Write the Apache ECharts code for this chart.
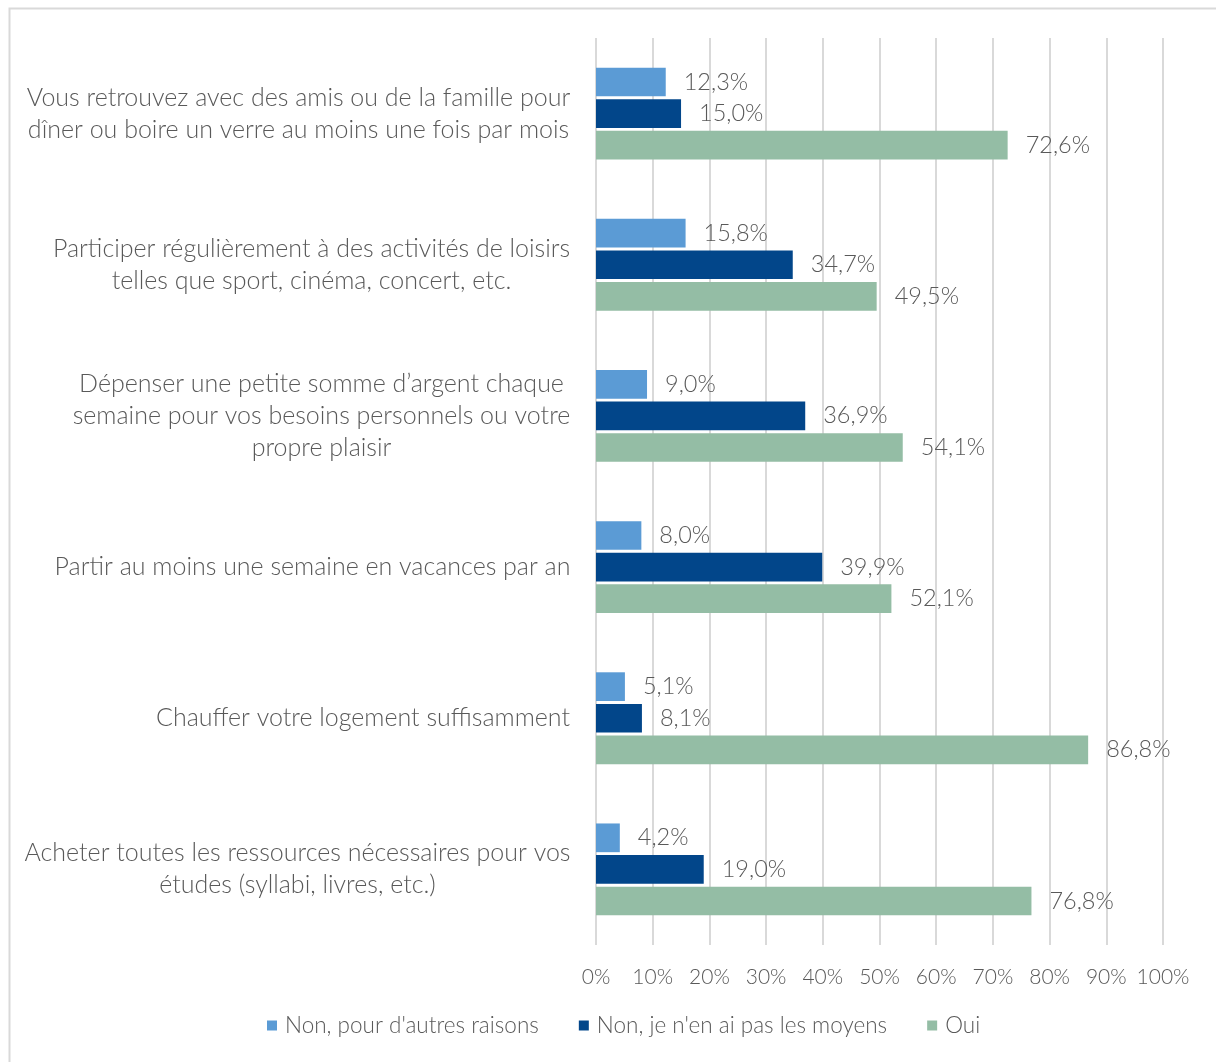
<!DOCTYPE html>
<html>
<head>
<meta charset="utf-8">
<script src="https://cdn.jsdelivr.net/npm/echarts@6/dist/echarts.min.js"></script>
<style>
  html, body { margin: 0; padding: 0; background: #fff; }
  #chart { width: 1216px; height: 1062px; }
</style>
</head>
<body>
<div id="chart"></div>
<script>
// Survey items (one label line per array entry)
const categories = [
  ['Vous retrouvez avec des amis ou de la famille pour', 'dîner ou boire un verre au moins une fois par mois'],
  ['Participer régulièrement à des activités de loisirs', 'telles que sport, cinéma, concert, etc.'],
  ['Dépenser une petite somme d’argent chaque', 'semaine pour vos besoins personnels ou votre', 'propre plaisir'],
  ['Partir au moins une semaine en vacances par an'],
  ['Chauffer votre logement suffisamment'],
  ['Acheter toutes les ressources nécessaires pour vos', 'études (syllabi, livres, etc.)']
];

const seriesNames = ['Non, pour d\'autres raisons', 'Non, je n\'en ai pas les moyens', 'Oui'];

// Shares in percent, one value per item
const nonAutres = [12.3, 15.8, 9.0, 8.0, 5.1, 4.2];
const nonMoyens = [15.0, 34.7, 36.9, 39.9, 8.1, 19.0];
const oui       = [72.6, 49.5, 54.1, 52.1, 86.8, 76.8];

const xTicks = ['0%', '10%', '20%', '30%', '40%', '50%', '60%', '70%', '80%', '90%', '100%'];

const colors = ['#5B9BD5', '#02468A', '#94BDA5'];
const FONT = 'Lato';
const WEIGHT = 300;
const TEXT = '#595959';
const CAT_SIZE = 25;

// Each multi-line label is centred on its own longest line, and the block is right-aligned
const measure = document.createElement('canvas').getContext('2d');
measure.font = WEIGHT + ' ' + CAT_SIZE + 'px ' + FONT;
const catKeys = categories.map((_, i) => 'c' + i);
const rich = {};
categories.forEach((lines, i) => {
  const w = Math.max(...lines.map(l => measure.measureText(l).width));
  rich['c' + i] = {
    width: Math.ceil(w) + 1, align: 'center', fontFamily: FONT, fontWeight: WEIGHT,
    fontSize: CAT_SIZE, color: TEXT, lineHeight: 32
  };
});

const fmtPct = v => v.toFixed(1).replace('.', ',') + '%';

const chart = echarts.init(document.getElementById('chart'), null, { renderer: 'canvas' });

const makeSeries = (name, data, color) => ({
  name, type: 'bar', data,
  barWidth: '19%', barGap: '10%', barCategoryGap: '38%',
  itemStyle: { color },
  label: {
    show: true, position: 'right', distance: 18,
    formatter: p => fmtPct(p.value),
    fontFamily: FONT, fontWeight: WEIGHT, fontSize: 23.5, color: TEXT
  }
});

chart.setOption({
  animation: false,
  textStyle: { fontFamily: FONT },
  graphic: [{
    type: 'rect', silent: true,
    shape: { x: 9.5, y: 8.5, width: 1300, height: 1200 },
    style: { fill: 'none', stroke: '#D9D9D9', lineWidth: 2 }
  }],
  grid: { left: 596, right: 53, top: 38, bottom: 117 },
  legend: {
    bottom: 20, left: 262,
    itemWidth: 10, itemHeight: 10, itemGap: 40, icon: 'rect',
    textStyle: { fontFamily: FONT, fontWeight: WEIGHT, fontSize: 22.5, color: TEXT, padding: [0, 0, 0, 3] },
    data: seriesNames
  },
  xAxis: {
    type: 'value', min: 0, max: 100, interval: 10,
    axisLine: { show: false }, axisTick: { show: false },
    splitLine: { lineStyle: { color: '#D9D9D9', width: 2 } },
    axisLabel: {
      margin: 22, fontFamily: FONT, fontWeight: WEIGHT, fontSize: 21, color: TEXT,
      formatter: v => xTicks[Math.round(v / 10)]
    }
  },
  yAxis: {
    type: 'category', inverse: true,
    data: catKeys,
    axisLine: { show: false }, axisTick: { show: false },
    axisLabel: {
      margin: 25, rich,
      formatter: key => {
        const i = +key.slice(1);
        return categories[i].map(l => '{' + key + '|' + l + '}').join('\n');
      }
    }
  },
  series: [
    makeSeries(seriesNames[0], nonAutres, colors[0]),
    makeSeries(seriesNames[1], nonMoyens, colors[1]),
    makeSeries(seriesNames[2], oui, colors[2])
  ]
});
</script>
</body>
</html>
